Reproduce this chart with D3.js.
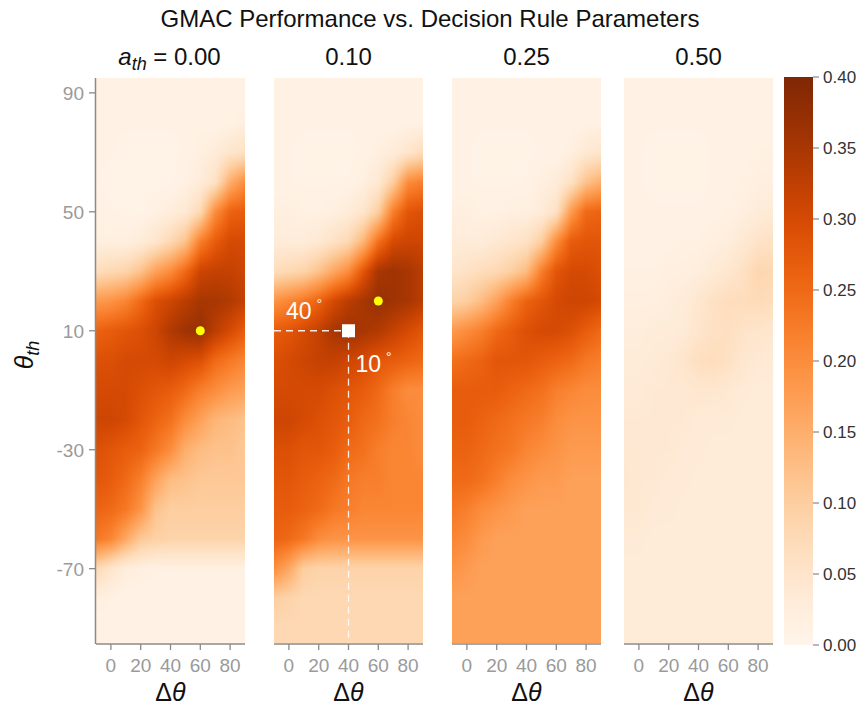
<!DOCTYPE html>
<html><head><meta charset="utf-8">
<script src="https://cdn.jsdelivr.net/npm/d3@7"></script>
<style>
body{margin:0;background:#fff}
text{font-family:'Liberation Sans',Arial,Helvetica,sans-serif}
</style>
</head><body><svg id="c" width="864" height="711"></svg>
<script>
// ---------------- data ----------------
const xGrid = [-10,0,10,20,30,40,50,60,70,80,90];            // Δθ grid
const yGrid = [90,80,70,60,50,40,30,20,10,0,-10,-20,-30,-40,-50,-60,-70,-80,-90]; // θ_th grid
const panelLabels = ["0.00","0.10","0.25","0.50"];
const xTicks = [0,20,40,60,80];
const yTicks = [90,50,10,-30,-70];
const cbTicks = [0,0.05,0.10,0.15,0.20,0.25,0.30,0.35,0.40];

const gmac000 = [
 [.01,.01,.01,.01,.01,.01,.01,.01,.01,.01,.01],
 [.01,.01,.01,.01,.01,.01,.01,.01,.01,.012,.02],
 [.01,.01,.008,.008,.008,.008,.01,.02,.03,.05,.06],
 [.01,.008,.006,.006,.006,.008,.015,.03,.06,.15,.2],
 [.012,.01,.008,.008,.015,.025,.04,.08,.2,.26,.27],
 [.02,.02,.02,.03,.05,.08,.12,.22,.27,.3,.3],
 [.07,.08,.09,.12,.17,.2,.25,.31,.32,.32,.31],
 [.18,.19,.21,.25,.29,.31,.33,.35,.35,.34,.32],
 [.26,.27,.28,.29,.31,.34,.36,.37,.33,.3,.27],
 [.29,.29,.3,.3,.3,.31,.3,.29,.25,.23,.21],
 [.3,.3,.3,.29,.28,.27,.25,.22,.2,.18,.17],
 [.31,.31,.3,.28,.26,.24,.2,.17,.14,.13,.12],
 [.29,.28,.27,.26,.23,.2,.15,.13,.12,.12,.11],
 [.28,.27,.25,.22,.17,.13,.12,.11,.11,.11,.11],
 [.26,.25,.23,.19,.12,.1,.1,.1,.1,.1,.1],
 [.23,.21,.16,.11,.095,.09,.09,.09,.09,.09,.09],
 [.08,.05,.025,.02,.015,.015,.015,.015,.015,.015,.015],
 [.02,.015,.01,.01,.01,.01,.01,.01,.01,.01,.01],
 [.01,.01,.01,.01,.01,.01,.01,.01,.01,.01,.01]
];
const gmac010 = [
 [.01,.01,.01,.01,.01,.01,.01,.01,.01,.01,.01],
 [.01,.01,.01,.01,.01,.01,.01,.01,.01,.012,.015],
 [.01,.01,.008,.008,.008,.008,.01,.02,.03,.05,.07],
 [.01,.01,.008,.008,.008,.01,.02,.04,.1,.2,.22],
 [.02,.02,.015,.015,.02,.03,.05,.1,.22,.28,.29],
 [.03,.03,.03,.04,.06,.08,.14,.24,.3,.31,.31],
 [.07,.08,.09,.12,.16,.2,.28,.35,.36,.35,.33],
 [.19,.21,.23,.26,.3,.33,.35,.37,.36,.35,.33],
 [.27,.28,.3,.32,.35,.36,.35,.34,.32,.3,.28],
 [.29,.3,.31,.32,.32,.31,.3,.28,.27,.26,.25],
 [.3,.3,.3,.3,.29,.28,.27,.25,.22,.2,.2],
 [.31,.31,.3,.29,.28,.27,.25,.24,.22,.21,.2],
 [.29,.29,.28,.28,.27,.25,.24,.22,.21,.21,.2],
 [.28,.28,.27,.26,.25,.23,.22,.22,.21,.21,.21],
 [.27,.27,.26,.25,.23,.22,.21,.21,.21,.21,.21],
 [.26,.25,.23,.2,.19,.19,.19,.19,.19,.19,.19],
 [.2,.16,.1,.09,.09,.09,.09,.09,.09,.09,.09],
 [.1,.09,.08,.08,.08,.08,.08,.08,.08,.08,.08],
 [.08,.08,.08,.08,.08,.08,.08,.08,.08,.08,.08]
];
const gmac025 = [
 [.01,.01,.01,.01,.01,.01,.01,.01,.01,.01,.01],
 [.01,.01,.01,.01,.01,.01,.01,.01,.01,.012,.015],
 [.01,.01,.008,.008,.008,.008,.01,.01,.02,.04,.05],
 [.01,.01,.008,.008,.008,.01,.02,.03,.06,.12,.15],
 [.02,.02,.015,.015,.02,.02,.03,.06,.18,.25,.26],
 [.03,.03,.03,.04,.05,.06,.1,.2,.27,.28,.28],
 [.05,.06,.07,.08,.1,.13,.22,.28,.3,.3,.29],
 [.09,.1,.13,.17,.22,.26,.28,.3,.31,.31,.3],
 [.18,.2,.22,.25,.27,.29,.3,.3,.29,.27,.25],
 [.24,.25,.26,.28,.28,.28,.27,.26,.25,.23,.22],
 [.27,.27,.27,.27,.26,.25,.24,.22,.21,.2,.2],
 [.27,.27,.26,.25,.24,.23,.22,.2,.19,.19,.19],
 [.26,.26,.25,.24,.23,.21,.2,.19,.18,.18,.18],
 [.25,.25,.24,.22,.2,.19,.18,.18,.17,.17,.17],
 [.23,.22,.2,.19,.18,.17,.17,.17,.17,.17,.17],
 [.21,.2,.18,.17,.17,.17,.17,.17,.17,.17,.17],
 [.19,.18,.17,.17,.17,.17,.17,.17,.17,.17,.17],
 [.17,.17,.17,.17,.17,.17,.17,.17,.17,.17,.17],
 [.17,.17,.17,.17,.17,.17,.17,.17,.17,.17,.17]
];
const gmac050 = [
 [.01,.01,.01,.01,.01,.01,.01,.01,.01,.01,.01],
 [.01,.01,.01,.01,.01,.01,.01,.01,.01,.012,.012],
 [.01,.01,.008,.008,.008,.008,.01,.01,.012,.015,.015],
 [.01,.01,.008,.008,.008,.008,.01,.012,.015,.02,.02],
 [.01,.01,.01,.01,.01,.01,.012,.015,.02,.03,.035],
 [.012,.012,.012,.012,.015,.015,.02,.025,.04,.055,.06],
 [.015,.015,.015,.02,.02,.025,.035,.045,.06,.085,.08],
 [.02,.02,.02,.025,.03,.045,.06,.07,.07,.075,.07],
 [.025,.025,.03,.03,.035,.05,.06,.065,.055,.05,.045],
 [.03,.03,.035,.04,.05,.065,.07,.06,.045,.04,.035],
 [.035,.035,.04,.04,.04,.045,.045,.04,.035,.03,.03],
 [.04,.04,.04,.04,.04,.035,.035,.035,.03,.03,.03],
 [.04,.04,.04,.04,.035,.035,.03,.03,.03,.03,.03],
 [.045,.04,.04,.035,.035,.03,.03,.03,.03,.03,.03],
 [.04,.04,.035,.035,.03,.03,.03,.03,.03,.03,.03],
 [.035,.035,.03,.03,.03,.03,.03,.03,.03,.03,.03],
 [.03,.03,.03,.03,.03,.03,.03,.03,.03,.03,.03],
 [.03,.03,.03,.03,.03,.03,.03,.03,.03,.03,.03],
 [.03,.03,.03,.03,.03,.03,.03,.03,.03,.03,.03]
];
const panelData = [gmac000, gmac010, gmac025, gmac050];
const bestPoints = [{panel:0, dtheta:60, theta:10},{panel:1, dtheta:60, theta:20}];
const chosenPoint = {panel:1, dtheta:40, theta:10};

// ---------------- layout ----------------
const svg = d3.select("#c");
const panelLeft = [96, 274, 452, 624];
const panelW = 149;
const plotTop = 78, plotBottom = 643;
const color = d3.scaleSequential(d3.interpolateOranges).domain([0, 0.4]);
const yScale = d3.scaleLinear().domain([95, -95]).range([plotTop, plotBottom]);
const tickGrey = "#9a9a9a";
const spineGrey = "#8a8a8a";

function sample(grid, dx, th){
  let ci = (dx - xGrid[0]) / (xGrid[1]-xGrid[0]);
  let ri = (yGrid[0] - th) / (yGrid[0]-yGrid[1]);
  ci = Math.max(0, Math.min(xGrid.length-1, ci));
  ri = Math.max(0, Math.min(yGrid.length-1, ri));
  const c0 = Math.min(Math.floor(ci), xGrid.length-2), r0 = Math.min(Math.floor(ri), yGrid.length-2);
  const fc = ci - c0, fr = ri - r0;
  const a = grid[r0][c0], b = grid[r0][c0+1], c = grid[r0+1][c0], d = grid[r0+1][c0+1];
  return (a*(1-fc)+b*fc)*(1-fr) + (c*(1-fc)+d*fc)*fr;
}

// title
svg.append("text").attr("x", 430).attr("y", 27).attr("text-anchor","middle")
  .attr("font-size", 24).attr("fill","#111").text("GMAC Performance vs. Decision Rule Parameters");

panelData.forEach((grid, i) => {
  const x = d3.scaleLinear().domain([-10, 90]).range([panelLeft[i], panelLeft[i] + panelW]);
  const W = Math.round(panelW), H = Math.round(plotBottom - plotTop);
  const cv = document.createElement("canvas");
  cv.width = W; cv.height = H;
  const ctx = cv.getContext("2d");
  const img = ctx.createImageData(W, H);
  for (let py = 0; py < H; py++) {
    const th = yScale.invert(plotTop + py + 0.5);
    for (let px = 0; px < W; px++) {
      const dx = x.invert(panelLeft[i] + px + 0.5);
      const c = d3.rgb(color(sample(grid, dx, th)));
      const k = (py*W + px)*4;
      img.data[k] = c.r; img.data[k+1] = c.g; img.data[k+2] = c.b; img.data[k+3] = 255;
    }
  }
  ctx.putImageData(img, 0, 0);
  svg.append("image").attr("x", panelLeft[i]).attr("y", plotTop).attr("width", W).attr("height", H)
    .attr("preserveAspectRatio","none").attr("href", cv.toDataURL());

  // x axis
  const gx = svg.append("g").attr("transform", `translate(0,${plotBottom+1})`);
  gx.append("line").attr("x1", panelLeft[i]).attr("x2", panelLeft[i]+panelW).attr("y1",0).attr("y2",0)
    .attr("stroke", spineGrey).attr("stroke-width", 1.5);
  xTicks.forEach(t => {
    gx.append("line").attr("x1", x(t)).attr("x2", x(t)).attr("y1", 0).attr("y2", 6)
      .attr("stroke", spineGrey).attr("stroke-width", 1.3);
    gx.append("text").attr("x", x(t)).attr("y", 28).attr("text-anchor","middle")
      .attr("font-size", 19).attr("fill", tickGrey).text(t);
  });
  svg.append("text").attr("x", (panelLeft[i]*2+panelW)/2).attr("y", 701).attr("text-anchor","middle")
    .attr("font-size", 25).attr("fill","#111")
    .html('Δ<tspan font-style="italic">θ</tspan>');

  // panel subtitle
  const st = svg.append("text").attr("x", (panelLeft[i]*2+panelW)/2 + (i===0?-1:0)).attr("y", 65)
    .attr("text-anchor","middle").attr("font-size", 24).attr("fill","#111");
  if (i === 0) {
    st.html('<tspan font-style="italic">a</tspan><tspan font-style="italic" font-size="18" dy="5">th</tspan><tspan dy="-5"> = ' + panelLabels[i] + '</tspan>');
  } else st.text(panelLabels[i]);

  // annotations
  if (i === chosenPoint.panel) {
    const px0 = x(chosenPoint.dtheta), py0 = yScale(chosenPoint.theta);
    svg.append("line").attr("x1", x(-10)).attr("x2", px0).attr("y1", py0).attr("y2", py0)
      .attr("stroke","#fff").attr("stroke-width",1.3).attr("stroke-dasharray","7,5").attr("opacity",0.9);
    svg.append("line").attr("x1", px0).attr("x2", px0).attr("y1", py0).attr("y2", plotBottom)
      .attr("stroke","#fff").attr("stroke-width",1.3).attr("stroke-dasharray","7,5").attr("opacity",0.9);
    svg.append("rect").attr("x", px0-6.5).attr("y", py0-6.5).attr("width",13).attr("height",13).attr("fill","#fff");
    svg.append("text").attr("x", x(-2)).attr("y", py0-12).attr("font-size",23).attr("fill","#fff")
      .html('40<tspan font-size="14" dy="-10" dx="5">°</tspan>');
    svg.append("text").attr("x", px0+7).attr("y", py0+41).attr("font-size",23).attr("fill","#fff")
      .html('10<tspan font-size="14" dy="-10" dx="5">°</tspan>');
  }
  bestPoints.filter(p => p.panel === i).forEach(p => {
    svg.append("circle").attr("cx", x(p.dtheta)).attr("cy", yScale(p.theta)).attr("r", 4.5).attr("fill", "#ffff00");
  });
});

// y axis (first panel)
const gy = svg.append("g");
gy.append("line").attr("x1", 95.5).attr("x2", 95.5).attr("y1", plotTop).attr("y2", plotBottom+1)
  .attr("stroke", spineGrey).attr("stroke-width", 1.5);
yTicks.forEach(t => {
  gy.append("line").attr("x1", 89).attr("x2", 95.5).attr("y1", yScale(t)).attr("y2", yScale(t))
    .attr("stroke", spineGrey).attr("stroke-width", 1.3);
  gy.append("text").attr("x", 84).attr("y", yScale(t)+7).attr("text-anchor","end")
    .attr("font-size", 19).attr("fill", tickGrey).text(t);
});
svg.append("text").attr("transform","translate(33,355) rotate(-90)").attr("text-anchor","middle")
  .attr("font-size", 25).attr("fill","#111")
  .html('<tspan font-style="italic">θ</tspan><tspan font-style="italic" font-size="18" dy="6">th</tspan>');

// colorbar
const cbX = 784, cbW = 29, cbTop = 77, cbBot = 645;
const cbScale = d3.scaleLinear().domain([0, 0.4]).range([cbBot, cbTop]);
const defs = svg.append("defs");
const lg = defs.append("linearGradient").attr("id","cbg").attr("x1",0).attr("x2",0).attr("y1",1).attr("y2",0);
d3.range(0, 1.0001, 0.05).forEach(f => lg.append("stop").attr("offset", f).attr("stop-color", color(f*0.4)));
svg.append("rect").attr("x", cbX).attr("y", cbTop).attr("width", cbW).attr("height", cbBot-cbTop).attr("fill","url(#cbg)");
cbTicks.forEach(t => {
  svg.append("line").attr("x1", cbX+cbW).attr("x2", cbX+cbW+6).attr("y1", cbScale(t)).attr("y2", cbScale(t))
    .attr("stroke","#888").attr("stroke-width",1.2);
  svg.append("text").attr("x", cbX+cbW+10).attr("y", cbScale(t)+6).attr("font-size", 17).attr("fill","#333")
    .text(t.toFixed(2));
});
</script>
</body></html>
